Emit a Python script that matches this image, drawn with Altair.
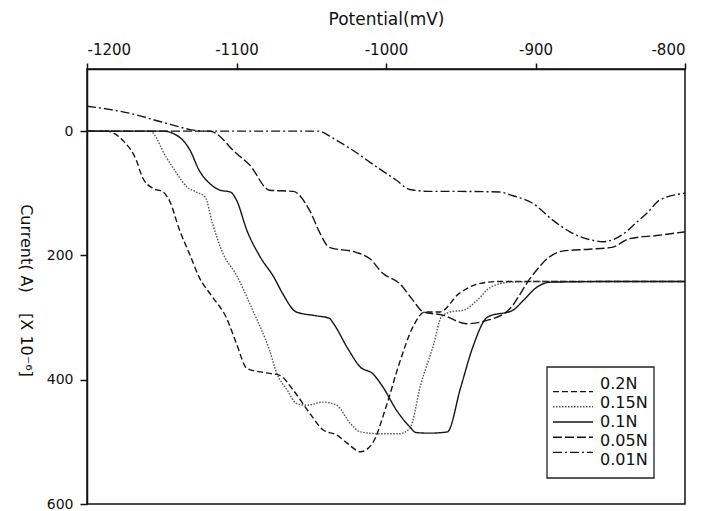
import altair as alt
import pandas as pd

# ---- data (potential in mV, current in 1e-6 A) ----
series_names = ["0.2N", "0.15N", "0.1N", "0.05N", "0.01N"]

x_02 = [-1200, -1187, -1176, -1167, -1163, -1156, -1149, -1145, -1138, -1131, -1125, -1116, -1107, -1100,
        -1093, -1080, -1071, -1062, -1051, -1042, -1033, -1026, -1017, -1009, -1000, -991, -982, -974,
        -964, -951, -937, -924, -900, -850, -800]
y_02 = [0, 0, 15, 47, 74, 92, 98, 111, 160, 200, 235, 267, 299, 342,
        382, 389, 393, 417, 454, 481, 489, 502, 516, 502, 444, 373, 315, 291,
        291, 261, 245, 242, 242, 242, 242]

x_015 = [-1200, -1158, -1147, -1140, -1133, -1127, -1121, -1116, -1109, -1100, -1089, -1078, -1073, -1066,
         -1060, -1053, -1042, -1033, -1024, -1017, -1004, -991, -984, -977, -968, -963, -957, -948, -939,
         -930, -917, -900, -850, -800]
y_015 = [0, 0, 42, 68, 90, 98, 106, 149, 197, 232, 289, 352, 390, 417,
         438, 441, 436, 441, 470, 484, 487, 487, 478, 410, 342, 299, 291, 288, 272,
         251, 243, 242, 242, 242]

x_01 = [-1200, -1149, -1138, -1131, -1125, -1118, -1111, -1104, -1100, -1093, -1084, -1075, -1069, -1060,
        -1047, -1038, -1035, -1026, -1017, -1009, -1002, -993, -984, -980, -971, -959, -950, -942, -932,
        -915, -908, -899, -890, -850, -800]
y_01 = [0, 0, 10, 31, 63, 84, 95, 98, 111, 160, 203, 235, 262, 291,
        297, 301, 310, 348, 380, 390, 412, 449, 476, 485, 486, 484, 412, 348, 299,
        288, 272, 251, 243, 242, 242]

x_005 = [-1200, -1118, -1100, -1091, -1078, -1062, -1051, -1044, -1038, -1020, -1011, -1002, -991, -982,
         -975, -962, -946, -933, -918, -903, -891, -882, -864, -849, -837, -819, -800]
y_005 = [0, 0, 36, 55, 95, 97, 128, 165, 187, 195, 205, 229, 245, 272,
         291, 296, 310, 305, 288, 235, 203, 193, 190, 187, 173, 168, 162]

x_001 = [-1200, -1185, -1170, -1155, -1140, -1130, -1120, -1045, -1035, -1024, -1006, -993, -984, -970,
         -950, -924, -915, -902, -888, -877, -861, -855, -841, -832, -825, -817, -800]
y_001 = [-40, -35, -28, -18, -8, -2, 0, 0, 12, 28, 58, 79, 94, 97,
         97, 98, 104, 116, 144, 162, 176, 178, 165, 146, 131, 111, 100]

x_ticks = [-1200, -1100, -1000, -900, -800]
y_ticks = [0, 200, 400, 600]

frames = []
for name, xs, ys in [("0.2N", x_02, y_02), ("0.15N", x_015, y_015), ("0.1N", x_01, y_01),
                     ("0.05N", x_005, y_005), ("0.01N", x_001, y_001)]:
    frames.append(pd.DataFrame({"potential": xs, "current": ys, "series": name}))
df = pd.concat(frames, ignore_index=True)
legend_df = pd.DataFrame({"series": series_names})
box_df = pd.DataFrame({"box": [0]})

dash_range = [[6, 3], [1.5, 1.5], [1, 0], [9, 3], [9, 3, 2, 3]]
color_range = ["#151515", "#505050", "#151515", "#151515", "#151515"]

FONT = "DejaVu Sans"
NB = "\u00a0"
y_title = "Current(" + NB + "A)" + NB * 4 + "[X" + NB + "10⁻⁶]"

dash_enc = alt.StrokeDash("series:N", scale=alt.Scale(domain=series_names, range=dash_range), legend=None)
color_enc = alt.Color("series:N", scale=alt.Scale(domain=series_names, range=color_range), legend=None)

lines = alt.Chart(df).mark_line(strokeWidth=1.4, interpolate="monotone").encode(
    x=alt.X("potential:Q",
            scale=alt.Scale(domain=[-1200, -800], nice=False, zero=False),
            axis=alt.Axis(orient="top", values=x_ticks, title="Potential(mV)",
                          labelExpr="'' + datum.value", grid=False, titleFontSize=17,
                          tickSize=6, labelPadding=6, titlePadding=14)),
    y=alt.Y("current:Q",
            scale=alt.Scale(domain=[-100, 600], nice=False, zero=False, reverse=True),
            axis=alt.Axis(values=y_ticks, title=y_title, titleAngle=90,
                          titleX=-62, titleY=221, titleAlign="center", titleBaseline="middle",
                          labelFontSize=14, grid=False, tickSize=7, labelPadding=7)),
    strokeDash=dash_enc,
    color=color_enc,
    detail="series:N",
)

# legend (box, line samples, labels)
leg_y = alt.Y("series:N", scale=alt.Scale(domain=series_names, range=[315, 391], padding=0), axis=None)

legend_box = alt.Chart(box_df).mark_rect(fill="white", stroke="#222222", strokeWidth=1.3).encode(
    x=alt.value(460), x2=alt.value(567), y=alt.value(298), y2=alt.value(409)
)
legend_lines = alt.Chart(legend_df).mark_rule(strokeWidth=1.4).encode(
    x=alt.value(466), x2=alt.value(506), y=leg_y, strokeDash=dash_enc, color=color_enc
)
legend_text = alt.Chart(legend_df).mark_text(
    align="left", baseline="middle", font=FONT, fontSize=16, color="#111111"
).encode(x=alt.value(513), y=leg_y, text="series:N")

chart = alt.layer(lines, legend_box, legend_lines, legend_text).resolve_scale(
    y="independent"
).properties(
    width=598, height=435,
    autosize=alt.AutoSizeParams(type="none"),
    padding={"left": 79, "top": 61, "right": 9, "bottom": 7},
).configure_view(
    stroke="#111111", strokeWidth=1.5
).configure_axis(
    domainColor="#111111", domainWidth=1.5, tickColor="#111111", tickWidth=1.5,
    labelFont=FONT, labelFontSize=15, labelColor="#111111",
    titleFont=FONT, titleFontSize=16, titleFontWeight="normal", titleColor="#111111",
)

chart.save("out.html", embed_options={"renderer": "svg", "actions": False})
